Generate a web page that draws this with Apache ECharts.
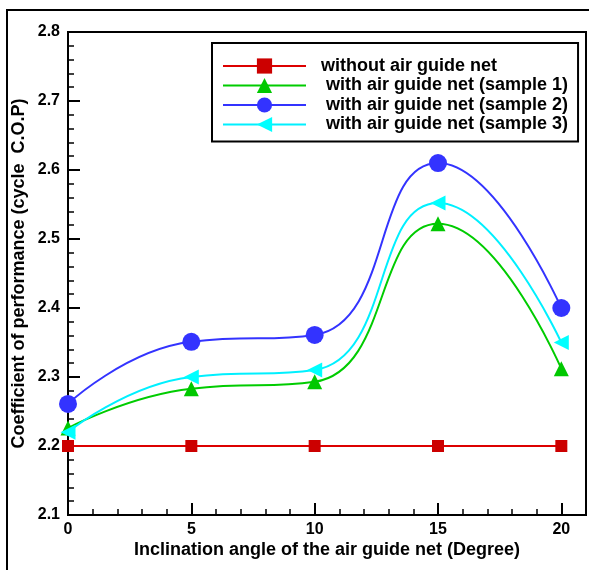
<!DOCTYPE html>
<html>
<head>
    <meta charset="utf-8">
    <script src="https://cdn.jsdelivr.net/npm/echarts@6/dist/echarts.min.js"></script>
</head>
<body style="margin:0;background:#fff">
<div id="main" style="width: 589px;height:570px;"></div>
<script type="text/javascript">
    // inclination angle (degree)
    var angles = [0, 5, 10, 15, 20];
    var seriesNames = ['without air guide net', ' with air guide net (sample 1)',
        ' with air guide net (sample 2)', ' with air guide net (sample 3)'];
    var noNet = [2.20, 2.20, 2.20, 2.20, 2.20];
    var sample1 = [2.226, 2.283, 2.293, 2.522, 2.312];
    var sample2 = [2.261, 2.351, 2.361, 2.610, 2.400];
    var sample3 = [2.220, 2.300, 2.310, 2.552, 2.350];
    var yTicks = [2.1, 2.2, 2.3, 2.4, 2.5, 2.6, 2.7, 2.8];

    function pairs(vals) {
        return angles.map(function (a, i) { return [a, vals[i]]; });
    }

    var font = '"Liberation Sans", Arial, sans-serif';
    var myChart = echarts.init(document.getElementById('main'));

    var option = {
        animation: false,
        backgroundColor: '#fff',
        graphic: [{
            type: 'rect',
            shape: { x: 7, y: 10, width: 640, height: 640 },
            style: { fill: 'none', stroke: '#000', lineWidth: 2 },
            silent: true
        }],
        grid: {
            left: 68, top: 32, right: 3, bottom: 55,
            show: true, borderColor: '#000', borderWidth: 2
        },
        legend: {
            orient: 'vertical',
            left: 212, top: 43,
            padding: [14, 10, 8, 10],
            borderColor: '#000', borderWidth: 2,
            itemWidth: 83, itemHeight: 19, itemGap: 1.5,
            textStyle: { fontFamily: font, fontWeight: 'bold', fontSize: 18, color: '#000', padding: [0, 0, 0, 10] },
            data: seriesNames
        },
        xAxis: [{
            type: 'value', min: 0, max: 21, interval: 5,
            name: 'Inclination angle of the air guide net (Degree)',
            nameLocation: 'middle', nameGap: 26, nameMoveOverlap: false,
            nameTextStyle: { fontFamily: font, fontWeight: 'bold', fontSize: 18, color: '#000' },
            axisLine: { lineStyle: { color: '#000', width: 2 } },
            axisTick: { inside: true, length: 12, lineStyle: { color: '#000', width: 2 } },
            axisLabel: {
                showMaxLabel: false, margin: 7,
                fontFamily: font, fontWeight: 'bold', fontSize: 16, color: '#000',
                formatter: function (v) { return v % 5 === 0 ? String(v) : ''; }
            },
            splitLine: { show: false }
        }, {
            type: 'value', min: 0, max: 21, interval: 1, position: 'bottom', offset: 0,
            axisLine: { show: false },
            axisTick: { inside: true, length: 6, lineStyle: { color: '#000', width: 1.5 } },
            axisLabel: { show: false },
            splitLine: { show: false }
        }],
        yAxis: {
            type: 'value', min: yTicks[0], max: yTicks[yTicks.length - 1], interval: 0.1,
            name: 'Coefficient of performance (cycle  C.O.P)',
            nameLocation: 'middle', nameGap: 40, nameMoveOverlap: false,
            nameTextStyle: { fontFamily: font, fontWeight: 'bold', fontSize: 18, color: '#000' },
            axisLine: { show: true, lineStyle: { color: '#000', width: 2 } },
            axisTick: { show: true, inside: true, length: 12, lineStyle: { color: '#000', width: 2 } },
            minorTick: { show: true, splitNumber: 5, length: 6, lineStyle: { color: '#000', width: 1.5 } },
            axisLabel: {
                margin: 8, fontFamily: font, fontWeight: 'bold', fontSize: 16, color: '#000',
                formatter: function (v) { return v.toFixed(1); }
            },
            splitLine: { show: false }
        },
        series: [{
            name: seriesNames[0], type: 'line', data: pairs(noNet),
            symbol: 'rect', symbolSize: 12,
            itemStyle: { color: '#cc0000' },
            lineStyle: { color: '#dd0000', width: 2 }
        }, {
            name: seriesNames[1], type: 'line', data: pairs(sample1), smooth: 0.5,
            symbol: 'triangle', symbolSize: 15,
            itemStyle: { color: '#00c800' },
            lineStyle: { color: '#00cc00', width: 2 }
        }, {
            name: seriesNames[2], type: 'line', data: pairs(sample2), smooth: 0.5,
            symbol: 'circle', symbolSize: 18,
            itemStyle: { color: '#3333ff' },
            lineStyle: { color: '#3333ff', width: 2 }
        }, {
            name: seriesNames[3], type: 'line', data: pairs(sample3), smooth: 0.5,
            symbol: 'triangle', symbolSize: 15, symbolRotate: 90,
            itemStyle: { color: '#00ffff' },
            lineStyle: { color: '#00f0ff', width: 2 }
        }]
    };
    myChart.setOption(option);
</script>
</body>
</html>
